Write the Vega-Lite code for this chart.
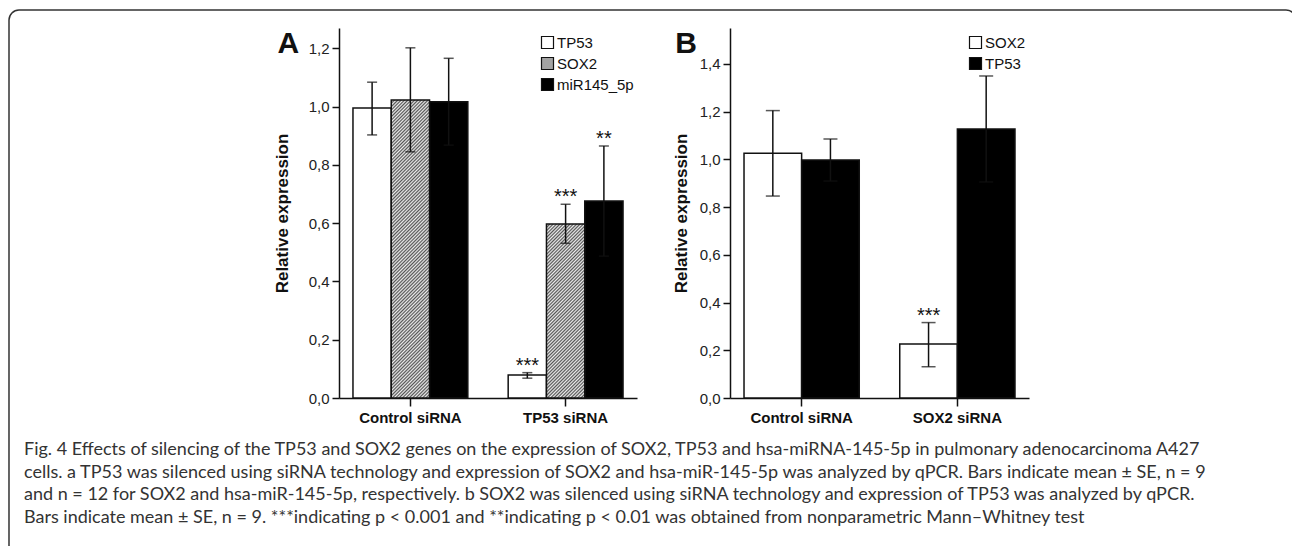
{
  "$schema": "https://vega.github.io/schema/vega-lite/v6.json",
  "background": "white",
  "width": 1287, "height": 560,
  "autosize": {"type": "none"},
  "padding": {"left": 9, "top": 10, "right": 0, "bottom": 0},
  "view": {"stroke": "#333", "strokeWidth": 1.5, "cornerRadius": 10},
  "config": {
    "view": {"stroke": null},
    "font": "Liberation Sans",
    "axis": {"domainColor": "#111", "domainWidth": 1.5, "tickColor": "#111", "tickWidth": 1.5, "tickSize": 7, "labelFont": "Liberation Sans", "labelFontSize": 15, "labelColor": "#222", "titleFont": "Liberation Sans", "titleFontSize": 17, "titleFontWeight": "bold", "titleColor": "#111", "grid": false},
    "axisX": {"labelFontWeight": "bold", "labelAngle": 0, "tickSize": 8, "labelPadding": 4, "labelColor": "#111"},
    "axisY": {"labelPadding": 3},
    "legend": {"title": null, "symbolType": "square", "symbolSize": 144, "symbolStrokeColor": "#111", "symbolStrokeWidth": 1.2, "labelFont": "Liberation Sans", "labelFontSize": 15, "labelColor": "#111", "labelOffset": 2, "rowPadding": 4, "padding": 0, "orient": "none"}
  },
  "resolve": {"scale": {"x": "independent", "y": "independent", "xOffset": "independent", "fill": "independent"}, "axis": {"x": "independent", "y": "independent"}, "legend": {"fill": "independent"}},
  "layer": [
    {
      "data": {"values": [
        {"line": 1, "caption": "Fig. 4 Effects of silencing of the TP53 and SOX2 genes on the expression of SOX2, TP53 and hsa-miRNA-145-5p in pulmonary adenocarcinoma A427"},
        {"line": 2, "caption": "cells. a TP53 was silenced using siRNA technology and expression of SOX2 and hsa-miR-145-5p was analyzed by qPCR. Bars indicate mean ± SE, n = 9"},
        {"line": 3, "caption": "and n = 12 for SOX2 and hsa-miR-145-5p, respectively. b SOX2 was silenced using siRNA technology and expression of TP53 was analyzed by qPCR."},
        {"line": 4, "caption": "Bars indicate mean ± SE, n = 9. ***indicating p < 0.001 and **indicating p < 0.01 was obtained from nonparametric Mann–Whitney test"}
      ]},
      "mark": {"type": "text", "align": "left", "baseline": "alphabetic", "font": "Lato", "fontSize": 18, "color": "#333"},
      "encoding": {
        "x": {"datum": 0, "type": "quantitative", "scale": {"domain": [0, 1], "range": [15, 16], "nice": false, "zero": false}, "axis": null},
        "y": {"field": "line", "type": "quantitative", "scale": {"domain": [1, 4], "range": [445, 513], "nice": false, "zero": false}, "axis": null},
        "text": {"field": "caption"}
      }
    },
    {
      "data": {"values": [
        {"group": "Control siRNA", "series": "TP53", "value": 0.995, "lo": 0.903, "hi": 1.084, "sig": "", "panel": "A"},
        {"group": "Control siRNA", "series": "SOX2", "value": 1.023, "lo": 0.845, "hi": 1.202, "sig": "", "panel": ""},
        {"group": "Control siRNA", "series": "miR145_5p", "value": 1.017, "lo": 0.868, "hi": 1.166, "sig": "", "panel": ""},
        {"group": "TP53 siRNA", "series": "TP53", "value": 0.079, "lo": 0.068, "hi": 0.087, "sig": "***", "panel": ""},
        {"group": "TP53 siRNA", "series": "SOX2", "value": 0.597, "lo": 0.531, "hi": 0.665, "sig": "***", "panel": ""},
        {"group": "TP53 siRNA", "series": "miR145_5p", "value": 0.676, "lo": 0.487, "hi": 0.865, "sig": "**", "panel": ""}
      ]},
      "encoding": {
        "x": {"field": "group", "type": "nominal", "title": null, "scale": {"domain": ["Control siRNA", "TP53 siRNA"], "range": [330, 628], "paddingInner": 0.26, "paddingOuter": 0.09}, "axis": {"orient": "bottom", "offset": -172}},
        "xOffset": {"field": "series", "type": "nominal", "scale": {"domain": ["TP53", "SOX2", "miR145_5p"], "paddingInner": 0, "paddingOuter": 0}},
        "y": {"field": "value", "type": "quantitative", "title": "Relative expression", "scale": {"domain": [0, 1.27], "range": [388, 18], "nice": false, "zero": true}, "axis": {"orient": "left", "offset": -330, "values": [0, 0.2, 0.4, 0.6, 0.8, 1.0, 1.2], "labelExpr": "replace(format(datum.value, '.1f'), '.', ',')", "titlePadding": 17}}
      },
      "layer": [
        {
          "transform": [{"filter": "datum.series !== 'SOX2'"}],
          "mark": {"type": "bar", "stroke": "#111", "strokeWidth": 1.5},
          "encoding": {"fill": {"field": "series", "type": "nominal", "scale": {"domain": ["TP53", "SOX2", "miR145_5p"], "range": ["#ffffff", "#a3a3a3", "#000000"]}, "legend": {"legendX": 531, "legendY": 25,
            "encode": {"symbols": {"update": {
              "stroke": {"value": "#111"},
              "strokeWidth": {"value": 1.2},
              "fill": [
                {"test": "datum.value === 'SOX2'", "value": {"gradient": "linear", "x1": 0, "y1": 0, "x2": 25, "y2": 25, "stops": [{"offset":0,"color":"#555"},{"offset":0.005,"color":"#eee"},{"offset":0.01,"color":"#555"},{"offset":0.015,"color":"#eee"},{"offset":0.02,"color":"#555"},{"offset":0.025,"color":"#eee"},{"offset":0.03,"color":"#555"},{"offset":0.035,"color":"#eee"},{"offset":0.04,"color":"#555"},{"offset":0.045,"color":"#eee"}]}},
                {"test": "datum.value === 'TP53'", "value": "#ffffff"},
                {"value": "#000000"}
              ]
            }}}}}}
        },
        {
          "transform": [{"filter": "datum.series === 'SOX2' && datum.group === 'Control siRNA'"}],
          "mark": {"type": "bar", "stroke": "#111", "strokeWidth": 1.5, "fill": {"gradient": "linear", "x1": 0, "y1": 0, "x2": 0.1426, "y2": 1.1092, "stops": [
{"offset":0,"color":"#555"},{"offset":0.005,"color":"#eee"},{"offset":0.01,"color":"#555"},{"offset":0.015,"color":"#eee"},{"offset":0.02,"color":"#555"},{"offset":0.025,"color":"#eee"},{"offset":0.03,"color":"#555"},{"offset":0.035,"color":"#eee"},{"offset":0.04,"color":"#555"},{"offset":0.045,"color":"#eee"},
{"offset":0.05,"color":"#555"},{"offset":0.055,"color":"#eee"},{"offset":0.06,"color":"#555"},{"offset":0.065,"color":"#eee"},{"offset":0.07,"color":"#555"},{"offset":0.075,"color":"#eee"},{"offset":0.08,"color":"#555"},{"offset":0.085,"color":"#eee"},{"offset":0.09,"color":"#555"},{"offset":0.095,"color":"#eee"},
{"offset":0.1,"color":"#555"},{"offset":0.105,"color":"#eee"},{"offset":0.11,"color":"#555"},{"offset":0.115,"color":"#eee"},{"offset":0.12,"color":"#555"},{"offset":0.125,"color":"#eee"},{"offset":0.13,"color":"#555"},{"offset":0.135,"color":"#eee"},{"offset":0.14,"color":"#555"},{"offset":0.145,"color":"#eee"},
{"offset":0.15,"color":"#555"},{"offset":0.155,"color":"#eee"},{"offset":0.16,"color":"#555"},{"offset":0.165,"color":"#eee"},{"offset":0.17,"color":"#555"},{"offset":0.175,"color":"#eee"},{"offset":0.18,"color":"#555"},{"offset":0.185,"color":"#eee"},{"offset":0.19,"color":"#555"},{"offset":0.195,"color":"#eee"},
{"offset":0.2,"color":"#555"},{"offset":0.205,"color":"#eee"},{"offset":0.21,"color":"#555"},{"offset":0.215,"color":"#eee"},{"offset":0.22,"color":"#555"},{"offset":0.225,"color":"#eee"},{"offset":0.23,"color":"#555"},{"offset":0.235,"color":"#eee"},{"offset":0.24,"color":"#555"},{"offset":0.245,"color":"#eee"},
{"offset":0.25,"color":"#555"},{"offset":0.255,"color":"#eee"},{"offset":0.26,"color":"#555"},{"offset":0.265,"color":"#eee"},{"offset":0.27,"color":"#555"},{"offset":0.275,"color":"#eee"},{"offset":0.28,"color":"#555"},{"offset":0.285,"color":"#eee"},{"offset":0.29,"color":"#555"},{"offset":0.295,"color":"#eee"},
{"offset":0.3,"color":"#555"},{"offset":0.305,"color":"#eee"},{"offset":0.31,"color":"#555"},{"offset":0.315,"color":"#eee"},{"offset":0.32,"color":"#555"},{"offset":0.325,"color":"#eee"},{"offset":0.33,"color":"#555"},{"offset":0.335,"color":"#eee"},{"offset":0.34,"color":"#555"},{"offset":0.345,"color":"#eee"},
{"offset":0.35,"color":"#555"},{"offset":0.355,"color":"#eee"},{"offset":0.36,"color":"#555"},{"offset":0.365,"color":"#eee"},{"offset":0.37,"color":"#555"},{"offset":0.375,"color":"#eee"},{"offset":0.38,"color":"#555"},{"offset":0.385,"color":"#eee"},{"offset":0.39,"color":"#555"},{"offset":0.395,"color":"#eee"},
{"offset":0.4,"color":"#555"},{"offset":0.405,"color":"#eee"},{"offset":0.41,"color":"#555"},{"offset":0.415,"color":"#eee"},{"offset":0.42,"color":"#555"},{"offset":0.425,"color":"#eee"},{"offset":0.43,"color":"#555"},{"offset":0.435,"color":"#eee"},{"offset":0.44,"color":"#555"},{"offset":0.445,"color":"#eee"},
{"offset":0.45,"color":"#555"},{"offset":0.455,"color":"#eee"},{"offset":0.46,"color":"#555"},{"offset":0.465,"color":"#eee"},{"offset":0.47,"color":"#555"},{"offset":0.475,"color":"#eee"},{"offset":0.48,"color":"#555"},{"offset":0.485,"color":"#eee"},{"offset":0.49,"color":"#555"},{"offset":0.495,"color":"#eee"},
{"offset":0.5,"color":"#555"},{"offset":0.505,"color":"#eee"},{"offset":0.51,"color":"#555"},{"offset":0.515,"color":"#eee"},{"offset":0.52,"color":"#555"},{"offset":0.525,"color":"#eee"},{"offset":0.53,"color":"#555"},{"offset":0.535,"color":"#eee"},{"offset":0.54,"color":"#555"},{"offset":0.545,"color":"#eee"},
{"offset":0.55,"color":"#555"},{"offset":0.555,"color":"#eee"},{"offset":0.56,"color":"#555"},{"offset":0.565,"color":"#eee"},{"offset":0.57,"color":"#555"},{"offset":0.575,"color":"#eee"},{"offset":0.58,"color":"#555"},{"offset":0.585,"color":"#eee"},{"offset":0.59,"color":"#555"},{"offset":0.595,"color":"#eee"},
{"offset":0.6,"color":"#555"},{"offset":0.605,"color":"#eee"},{"offset":0.61,"color":"#555"},{"offset":0.615,"color":"#eee"},{"offset":0.62,"color":"#555"},{"offset":0.625,"color":"#eee"},{"offset":0.63,"color":"#555"},{"offset":0.635,"color":"#eee"},{"offset":0.64,"color":"#555"},{"offset":0.645,"color":"#eee"},
{"offset":0.65,"color":"#555"},{"offset":0.655,"color":"#eee"},{"offset":0.66,"color":"#555"},{"offset":0.665,"color":"#eee"},{"offset":0.67,"color":"#555"},{"offset":0.675,"color":"#eee"},{"offset":0.68,"color":"#555"},{"offset":0.685,"color":"#eee"},{"offset":0.69,"color":"#555"},{"offset":0.695,"color":"#eee"},
{"offset":0.7,"color":"#555"},{"offset":0.705,"color":"#eee"},{"offset":0.71,"color":"#555"},{"offset":0.715,"color":"#eee"},{"offset":0.72,"color":"#555"},{"offset":0.725,"color":"#eee"},{"offset":0.73,"color":"#555"},{"offset":0.735,"color":"#eee"},{"offset":0.74,"color":"#555"},{"offset":0.745,"color":"#eee"},
{"offset":0.75,"color":"#555"},{"offset":0.755,"color":"#eee"},{"offset":0.76,"color":"#555"},{"offset":0.765,"color":"#eee"},{"offset":0.77,"color":"#555"},{"offset":0.775,"color":"#eee"},{"offset":0.78,"color":"#555"},{"offset":0.785,"color":"#eee"},{"offset":0.79,"color":"#555"},{"offset":0.795,"color":"#eee"},
{"offset":0.8,"color":"#555"},{"offset":0.805,"color":"#eee"},{"offset":0.81,"color":"#555"},{"offset":0.815,"color":"#eee"},{"offset":0.82,"color":"#555"},{"offset":0.825,"color":"#eee"},{"offset":0.83,"color":"#555"},{"offset":0.835,"color":"#eee"},{"offset":0.84,"color":"#555"},{"offset":0.845,"color":"#eee"},
{"offset":0.85,"color":"#555"},{"offset":0.855,"color":"#eee"},{"offset":0.86,"color":"#555"},{"offset":0.865,"color":"#eee"},{"offset":0.87,"color":"#555"},{"offset":0.875,"color":"#eee"},{"offset":0.88,"color":"#555"},{"offset":0.885,"color":"#eee"},{"offset":0.89,"color":"#555"},{"offset":0.895,"color":"#eee"},
{"offset":0.9,"color":"#555"},{"offset":0.905,"color":"#eee"},{"offset":0.91,"color":"#555"},{"offset":0.915,"color":"#eee"},{"offset":0.92,"color":"#555"},{"offset":0.925,"color":"#eee"},{"offset":0.93,"color":"#555"},{"offset":0.935,"color":"#eee"},{"offset":0.94,"color":"#555"},{"offset":0.945,"color":"#eee"},
{"offset":0.95,"color":"#555"},{"offset":0.955,"color":"#eee"},{"offset":0.96,"color":"#555"},{"offset":0.965,"color":"#eee"},{"offset":0.97,"color":"#555"},{"offset":0.975,"color":"#eee"},{"offset":0.98,"color":"#555"},{"offset":0.985,"color":"#eee"},{"offset":0.99,"color":"#555"},{"offset":0.995,"color":"#eee"},
{"offset":1,"color":"#555"}
          ]}}
        },
        {
          "transform": [{"filter": "datum.series === 'SOX2' && datum.group === 'TP53 siRNA'"}],
          "mark": {"type": "bar", "stroke": "#111", "strokeWidth": 1.5, "fill": {"gradient": "linear", "x1": 0, "y1": 0, "x2": 0.4059, "y2": 1.8428, "stops": [
{"offset":0,"color":"#555"},{"offset":0.005,"color":"#eee"},{"offset":0.01,"color":"#555"},{"offset":0.015,"color":"#eee"},{"offset":0.02,"color":"#555"},{"offset":0.025,"color":"#eee"},{"offset":0.03,"color":"#555"},{"offset":0.035,"color":"#eee"},{"offset":0.04,"color":"#555"},{"offset":0.045,"color":"#eee"},
{"offset":0.05,"color":"#555"},{"offset":0.055,"color":"#eee"},{"offset":0.06,"color":"#555"},{"offset":0.065,"color":"#eee"},{"offset":0.07,"color":"#555"},{"offset":0.075,"color":"#eee"},{"offset":0.08,"color":"#555"},{"offset":0.085,"color":"#eee"},{"offset":0.09,"color":"#555"},{"offset":0.095,"color":"#eee"},
{"offset":0.1,"color":"#555"},{"offset":0.105,"color":"#eee"},{"offset":0.11,"color":"#555"},{"offset":0.115,"color":"#eee"},{"offset":0.12,"color":"#555"},{"offset":0.125,"color":"#eee"},{"offset":0.13,"color":"#555"},{"offset":0.135,"color":"#eee"},{"offset":0.14,"color":"#555"},{"offset":0.145,"color":"#eee"},
{"offset":0.15,"color":"#555"},{"offset":0.155,"color":"#eee"},{"offset":0.16,"color":"#555"},{"offset":0.165,"color":"#eee"},{"offset":0.17,"color":"#555"},{"offset":0.175,"color":"#eee"},{"offset":0.18,"color":"#555"},{"offset":0.185,"color":"#eee"},{"offset":0.19,"color":"#555"},{"offset":0.195,"color":"#eee"},
{"offset":0.2,"color":"#555"},{"offset":0.205,"color":"#eee"},{"offset":0.21,"color":"#555"},{"offset":0.215,"color":"#eee"},{"offset":0.22,"color":"#555"},{"offset":0.225,"color":"#eee"},{"offset":0.23,"color":"#555"},{"offset":0.235,"color":"#eee"},{"offset":0.24,"color":"#555"},{"offset":0.245,"color":"#eee"},
{"offset":0.25,"color":"#555"},{"offset":0.255,"color":"#eee"},{"offset":0.26,"color":"#555"},{"offset":0.265,"color":"#eee"},{"offset":0.27,"color":"#555"},{"offset":0.275,"color":"#eee"},{"offset":0.28,"color":"#555"},{"offset":0.285,"color":"#eee"},{"offset":0.29,"color":"#555"},{"offset":0.295,"color":"#eee"},
{"offset":0.3,"color":"#555"},{"offset":0.305,"color":"#eee"},{"offset":0.31,"color":"#555"},{"offset":0.315,"color":"#eee"},{"offset":0.32,"color":"#555"},{"offset":0.325,"color":"#eee"},{"offset":0.33,"color":"#555"},{"offset":0.335,"color":"#eee"},{"offset":0.34,"color":"#555"},{"offset":0.345,"color":"#eee"},
{"offset":0.35,"color":"#555"},{"offset":0.355,"color":"#eee"},{"offset":0.36,"color":"#555"},{"offset":0.365,"color":"#eee"},{"offset":0.37,"color":"#555"},{"offset":0.375,"color":"#eee"},{"offset":0.38,"color":"#555"},{"offset":0.385,"color":"#eee"},{"offset":0.39,"color":"#555"},{"offset":0.395,"color":"#eee"},
{"offset":0.4,"color":"#555"},{"offset":0.405,"color":"#eee"},{"offset":0.41,"color":"#555"},{"offset":0.415,"color":"#eee"},{"offset":0.42,"color":"#555"},{"offset":0.425,"color":"#eee"},{"offset":0.43,"color":"#555"},{"offset":0.435,"color":"#eee"},{"offset":0.44,"color":"#555"},{"offset":0.445,"color":"#eee"},
{"offset":0.45,"color":"#555"},{"offset":0.455,"color":"#eee"},{"offset":0.46,"color":"#555"},{"offset":0.465,"color":"#eee"},{"offset":0.47,"color":"#555"},{"offset":0.475,"color":"#eee"},{"offset":0.48,"color":"#555"},{"offset":0.485,"color":"#eee"},{"offset":0.49,"color":"#555"},{"offset":0.495,"color":"#eee"},
{"offset":0.5,"color":"#555"},{"offset":0.505,"color":"#eee"},{"offset":0.51,"color":"#555"},{"offset":0.515,"color":"#eee"},{"offset":0.52,"color":"#555"},{"offset":0.525,"color":"#eee"},{"offset":0.53,"color":"#555"},{"offset":0.535,"color":"#eee"},{"offset":0.54,"color":"#555"},{"offset":0.545,"color":"#eee"},
{"offset":0.55,"color":"#555"},{"offset":0.555,"color":"#eee"},{"offset":0.56,"color":"#555"},{"offset":0.565,"color":"#eee"},{"offset":0.57,"color":"#555"},{"offset":0.575,"color":"#eee"},{"offset":0.58,"color":"#555"},{"offset":0.585,"color":"#eee"},{"offset":0.59,"color":"#555"},{"offset":0.595,"color":"#eee"},
{"offset":0.6,"color":"#555"},{"offset":0.605,"color":"#eee"},{"offset":0.61,"color":"#555"},{"offset":0.615,"color":"#eee"},{"offset":0.62,"color":"#555"},{"offset":0.625,"color":"#eee"},{"offset":0.63,"color":"#555"},{"offset":0.635,"color":"#eee"},{"offset":0.64,"color":"#555"},{"offset":0.645,"color":"#eee"}
          ]}}
        },
        {"mark": {"type": "rule", "color": "#111", "strokeWidth": 1.5}, "encoding": {"y": {"field": "lo", "type": "quantitative", "title": "Relative expression"}, "y2": {"field": "hi"}}},
        {"mark": {"type": "tick", "color": "#111", "thickness": 1.5, "size": 10}, "encoding": {"y": {"field": "lo", "type": "quantitative", "title": "Relative expression"}}},
        {"mark": {"type": "tick", "color": "#111", "thickness": 1.5, "size": 10}, "encoding": {"y": {"field": "hi", "type": "quantitative", "title": "Relative expression"}}},
        {"mark": {"type": "text", "baseline": "alphabetic", "dy": -1, "fontSize": 20, "color": "#111", "font": "Liberation Sans"}, "encoding": {"y": {"field": "hi", "type": "quantitative", "title": "Relative expression"}, "text": {"field": "sig"}}},
        {
          "transform": [{"filter": "datum.panel !== ''"}],
          "mark": {"type": "text", "align": "left", "baseline": "alphabetic", "fontSize": 30, "fontWeight": "bold", "color": "#111", "font": "Liberation Sans", "dx": -94.5, "dy": 25},
          "encoding": {"y": {"datum": 1.27, "type": "quantitative"}, "text": {"field": "panel"}}
        }
      ]
    },
    {
      "data": {"values": [
        {"group": "Control siRNA", "series": "SOX2", "value": 1.025, "lo": 0.846, "hi": 1.204, "sig": "", "panel": "B"},
        {"group": "Control siRNA", "series": "TP53", "value": 0.997, "lo": 0.909, "hi": 1.085, "sig": "", "panel": ""},
        {"group": "SOX2 siRNA", "series": "SOX2", "value": 0.226, "lo": 0.131, "hi": 0.316, "sig": "***", "panel": ""},
        {"group": "SOX2 siRNA", "series": "TP53", "value": 1.127, "lo": 0.905, "hi": 1.349, "sig": "", "panel": ""}
      ]},
      "encoding": {
        "x": {"field": "group", "type": "nominal", "title": null, "scale": {"domain": ["Control siRNA", "SOX2 siRNA"], "range": [721, 1020], "paddingInner": 0.26, "paddingOuter": 0.09}, "axis": {"orient": "bottom", "offset": -172}},
        "xOffset": {"field": "series", "type": "nominal", "scale": {"domain": ["SOX2", "TP53"], "paddingInner": 0, "paddingOuter": 0}},
        "y": {"field": "value", "type": "quantitative", "title": "Relative expression", "scale": {"domain": [0, 1.55], "range": [388, 18], "nice": false, "zero": true}, "axis": {"orient": "left", "offset": -721, "values": [0, 0.2, 0.4, 0.6, 0.8, 1.0, 1.2, 1.4], "labelExpr": "replace(format(datum.value, '.1f'), '.', ',')", "titlePadding": 9}}
      },
      "layer": [
        {"mark": {"type": "bar", "stroke": "#111", "strokeWidth": 1.5}, "encoding": {"fill": {"field": "series", "type": "nominal", "scale": {"domain": ["SOX2", "TP53"], "range": ["#ffffff", "#000000"]}, "legend": {"legendX": 959, "legendY": 25}}}},
        {"mark": {"type": "rule", "color": "#111", "strokeWidth": 1.5}, "encoding": {"y": {"field": "lo", "type": "quantitative", "title": "Relative expression"}, "y2": {"field": "hi"}}},
        {"mark": {"type": "tick", "color": "#111", "thickness": 1.5, "size": 14}, "encoding": {"y": {"field": "lo", "type": "quantitative", "title": "Relative expression"}}},
        {"mark": {"type": "tick", "color": "#111", "thickness": 1.5, "size": 14}, "encoding": {"y": {"field": "hi", "type": "quantitative", "title": "Relative expression"}}},
        {"mark": {"type": "text", "baseline": "alphabetic", "dy": -1, "fontSize": 20, "color": "#111", "font": "Liberation Sans"}, "encoding": {"y": {"field": "hi", "type": "quantitative", "title": "Relative expression"}, "text": {"field": "sig"}}},
        {
          "transform": [{"filter": "datum.panel !== ''"}],
          "mark": {"type": "text", "align": "left", "baseline": "alphabetic", "fontSize": 30, "fontWeight": "bold", "color": "#111", "font": "Liberation Sans", "dx": -97.7, "dy": 25},
          "encoding": {"y": {"datum": 1.55, "type": "quantitative"}, "text": {"field": "panel"}}
        }
      ]
    }
  ]
}
